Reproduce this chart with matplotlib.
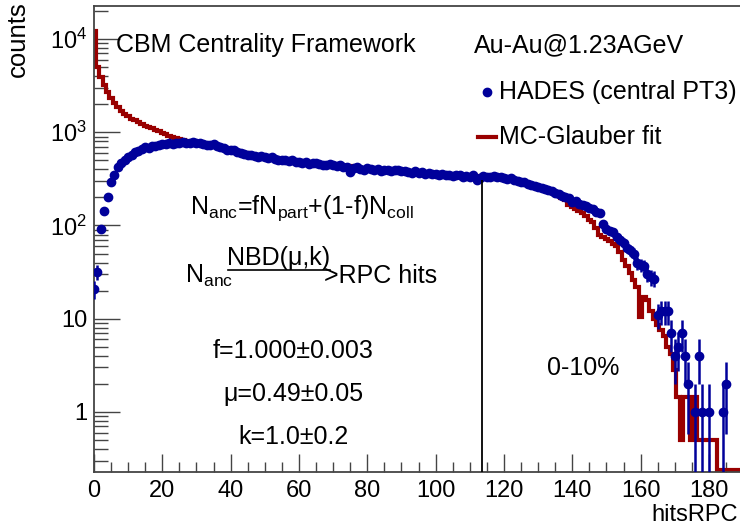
import numpy as np
import matplotlib
matplotlib.use("Agg")
import matplotlib.pyplot as plt
from matplotlib.ticker import MultipleLocator, LogLocator, FuncFormatter, NullFormatter

plt.rcParams['font.family'] = ['Liberation Sans', 'DejaVu Sans']
plt.rcParams['mathtext.fontset'] = 'custom'
plt.rcParams['mathtext.rm'] = 'Liberation Sans'
plt.rcParams['mathtext.it'] = 'Liberation Sans:italic'

#######################################
# data (one value per hitsRPC bin)

hades_counts = [
    21, 32, 92, 142, 200, 296, 346, 420, 465, 500,
    540, 575, 610, 625, 660, 690, 680, 710, 720, 735,
    745, 740, 760, 750, 770, 765, 790, 760, 775, 780,
    760, 770, 745, 730, 735, 745, 720, 700, 680, 650,
    640, 650, 620, 600, 590, 570, 575, 555, 545, 550,
    540, 530, 545, 520, 510, 505, 500, 490, 505, 480,
    477, 470, 480, 460, 465, 470, 455, 450, 443, 460,
    445, 430, 440, 420, 425, 372, 415, 420, 405, 395,
    410, 400, 395, 405, 385, 395, 390, 380, 395, 390,
    380, 385, 375, 370, 380, 365, 375, 360, 370, 355,
    360, 350, 355, 345, 350, 340, 345, 350, 335, 340,
    330, 345, 310, 325, 340, 330, 335, 340, 330, 330,
    325, 315, 320, 305, 300, 290, 295, 280, 270, 265,
    258, 255, 245, 240, 235, 225, 215, 205, 200, 195,
    180, 185, 170, 165, 160, 155, 150, 140, 135, 105,
    92, 88, 85, 75, 70, 65, 58, 54, 50, 40,
    38, 37, 30, 28, 27, 11, 12, 12, 12, 7,
    4, 5, 7, 4, 2, 0, 1, 4, 1, 0,
    1, 0, 0, 0, 1, 2,
]

glauber_fit = [
    12300, 5000, 3900, 3200, 2700, 2350, 2050, 1850, 1700, 1580,
    1480, 1400, 1340, 1280, 1230, 1180, 1140, 1100, 1060, 1020,
    990, 955, 920, 890, 860, 840, 820, 800, 790, 780,
    770, 765, 755, 745, 735, 725, 712, 698, 684, 670,
    656, 643, 630, 617, 605, 594, 583, 573, 563, 555,
    547, 540, 533, 527, 520, 514, 508, 502, 497, 491,
    486, 481, 476, 471, 467, 462, 458, 454, 450, 446,
    442, 438, 434, 431, 427, 430, 420, 417, 414, 411,
    408, 405, 402, 399, 396, 394, 391, 389, 386, 384,
    381, 379, 377, 374, 372, 370, 368, 366, 364, 362,
    360, 358, 356, 354, 352, 350, 348, 346, 344, 342,
    341, 339, 338, 336, 340, 336, 333, 330, 327, 323,
    319, 315, 310, 305, 299, 293, 287, 280, 273, 266,
    258, 250, 242, 235, 228, 220, 205, 196, 187, 165,
    158, 150, 142, 135, 125, 115, 109, 95, 79, 76,
    72, 68, 64, 61, 52, 43, 37, 31, 26, 22,
    10.5, 17, 16, 12, 10, 8.5, 7.6, 6.5, 5, 4.2,
    2.8, 1.45, 0.5, 1.45, 1.45, 0.5, 1.45, 0.5, 0.5, 0.5,
    0.5, 0.5, 0.5, 0.24, 0.24, 0.24, 0.24, 0.24, 0.24, 0.24, 0.24,
]

cut_position = 113.5      # 0-10% centrality border
cut_height = 310

fit_lines = [
    "f=1.000\u00b10.003",
    "\u03bc=0.49\u00b10.05",
    "k=1.0\u00b10.2",
]

#######################################

W, H = 740, 529
BLUE = "#00009a"
RED = "#990000"


def px(x, y):
    """pixel position (from top left) -> figure fraction"""
    return x / W, 1 - y / H


fig = plt.figure(figsize=(W / 100, H / 100), dpi=100)
ax = fig.add_axes([94 / W, 1 - 472 / H, (W - 94) / W, (472 - 6) / H])

counts = np.array(hades_counts, dtype=float)
bins = np.arange(len(counts))
fit = np.array(glauber_fit, dtype=float)
edges = np.arange(len(fit) + 1) - 0.5

ax.stairs(fit, edges, baseline=None, color=RED, lw=3, zorder=2)

ok = counts > 0
err = np.sqrt(counts[ok])
err_lo = np.minimum(err, counts[ok] - 1e-3)
ax.errorbar(bins[ok], counts[ok], yerr=[err_lo, err], fmt='o', ms=6,
            color=BLUE, ecolor=BLUE, elinewidth=1.8, capsize=0, zorder=3)

ax.set_yscale('log')
ax.set_xlim(0, 189.1)
ax.set_ylim(0.227, 2.26e4)
ax.vlines(cut_position, 0.227, cut_height, color='black', lw=1.3, zorder=4)

# ROOT-ish axes
ax.xaxis.set_major_locator(MultipleLocator(20))
ax.xaxis.set_minor_locator(MultipleLocator(5))
ax.yaxis.set_major_locator(LogLocator(base=10))
ax.yaxis.set_minor_locator(LogLocator(base=10, subs=np.arange(2, 10)))
ax.yaxis.set_minor_formatter(NullFormatter())


def ylab(v, pos):
    if v < 0.5:
        return ""
    if v < 5:
        return "1"
    if v < 50:
        return "10"
    return r"$10^{%d}$" % round(np.log10(v))


ax.yaxis.set_major_formatter(FuncFormatter(ylab))
ax.tick_params(axis='x', which='major', direction='in', length=13, width=1,
               labelsize=17, pad=6, color='#444444')
ax.tick_params(axis='x', which='minor', direction='in', length=7, width=1, color='#444444')
ax.tick_params(axis='y', which='major', direction='in', length=19, width=1,
               labelsize=17, pad=5, color='#444444')
ax.tick_params(axis='y', which='minor', direction='in', length=10, width=1, color='#444444')
for s in ax.spines.values():
    s.set_color('#444444')
    s.set_linewidth(1.3)
ax.spines['right'].set_visible(False)

fig.text(*px(18, 1), "counts", rotation=90, ha='center', va='top', fontsize=18.5)
fig.text(*px(738, 515), "hitsRPC", ha='right', va='center', fontsize=17)

# header texts
fig.text(*px(116, 45), "CBM Centrality Framework", ha='left', va='center', fontsize=18)
fig.text(*px(474, 45), "Au-Au@1.23AGeV", ha='left', va='center', fontsize=18)

# legend drawn by hand (ROOT style)
fig.lines.append(plt.Line2D([487 / W], [1 - 92 / H], marker='o', ms=6, color=BLUE,
                            transform=fig.transFigure))
fig.text(*px(499, 92), "HADES (central PT3)", ha='left', va='center', fontsize=18)
fig.lines.append(plt.Line2D([478 / W, 496 / W], [1 - 137 / H] * 2, color=RED, lw=3,
                            transform=fig.transFigure))
fig.text(*px(499, 137), "MC-Glauber fit", ha='left', va='center', fontsize=18)

# model description
fig.text(*px(190, 208), r"N$_\mathrm{anc}$=fN$_\mathrm{part}$+(1-f)N$_\mathrm{coll}$",
         ha='left', va='center', fontsize=18)
fig.text(*px(185, 276), r"N$_\mathrm{anc}$", ha='left', va='center', fontsize=18)
fig.text(*px(279, 258), "NBD(\u03bc,k)", ha='center', va='center', fontsize=18)
fig.lines.append(plt.Line2D([228 / W, 330 / W], [1 - 270 / H] * 2, color='black', lw=1.2,
                            transform=fig.transFigure))
fig.text(*px(324, 276), ">RPC hits", ha='left', va='center', fontsize=18)

for i, line in enumerate(fit_lines):
    fig.text(*px(293, 351 + 43 * i), line, ha='center', va='center', fontsize=18)

fig.text(*px(583, 368), "0-10%", ha='center', va='center', fontsize=18)

fig.savefig("out.png", dpi=100)
